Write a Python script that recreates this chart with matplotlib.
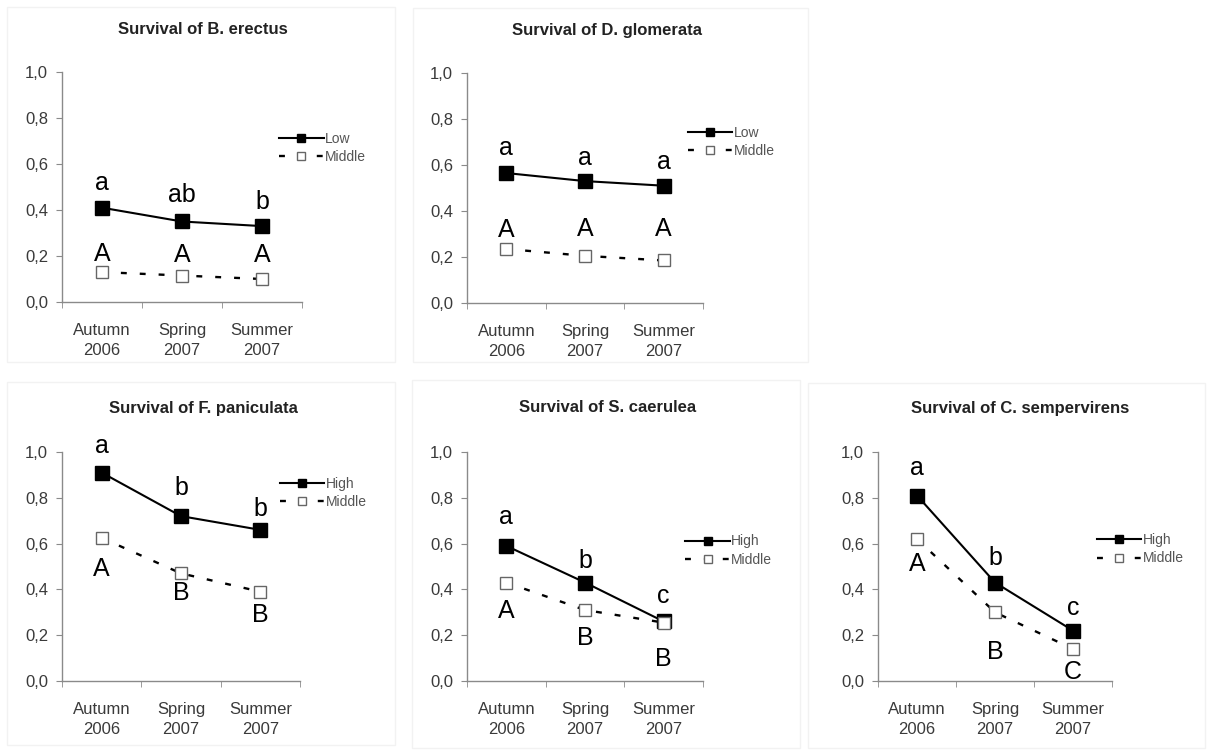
import numpy as np
import matplotlib
matplotlib.use("Agg")
import matplotlib.pyplot as plt
from matplotlib.patches import Rectangle

plt.rcParams["font.family"] = ["Liberation Sans", "DejaVu Sans"]

seasons = ["Autumn\n2006", "Spring\n2007", "Summer\n2007"]
yticks = [0.0, 0.2, 0.4, 0.6, 0.8, 1.0]

titles = [
    "Survival of B. erectus",
    "Survival of D. glomerata",
    "Survival of F. paniculata",
    "Survival of S. caerulea",
    "Survival of C. sempervirens",
]
upper_names = ["Low", "Low", "High", "High", "High"]

upper_vals = [
    [0.41, 0.35, 0.33],
    [0.565, 0.53, 0.51],
    [0.91, 0.72, 0.66],
    [0.59, 0.43, 0.26],
    [0.81, 0.43, 0.22],
]
middle_vals = [
    [0.13, 0.115, 0.10],
    [0.235, 0.205, 0.185],
    [0.625, 0.47, 0.39],
    [0.43, 0.31, 0.255],
    [0.62, 0.30, 0.14],
]

upper_letters = [["a", "ab", "b"], ["a", "a", "a"], ["a", "b", "b"], ["a", "b", "c"], ["a", "b", "c"]]
middle_letters = [["A", "A", "A"], ["A", "A", "A"], ["A", "B", "B"], ["A", "B", "B"], ["A", "B", "C"]]

# letter offsets from the marker, in pixels (negative = above)
upper_off = [[-25, -27, -24], [-25, -23, -24], [-27, -28, -21], [-29, -22, -25], [-28, -25, -23]]
middle_off = [[-18, -21, -24], [-19, -27, -31], [31, 20, 23], [28, 28, 36], [25, 40, 23]]

# layout in pixels: axes (left, top, right, bottom), frame box, title centre, legend anchor
W, H = 1212, 753
axes_px = [
    (62, 72, 302, 302),
    (467, 73, 703, 303),
    (62, 452, 300, 681),
    (467, 452, 703, 681),
    (878, 452, 1112, 681),
]
frames_px = [
    (7, 7, 395, 362),
    (413, 8, 808, 362),
    (7, 382, 395, 745),
    (412, 380, 800, 748),
    (808, 383, 1205, 748),
]
title_px = [(203, 30), (607, 30), (203, 408), (608, 408), (1020, 408)]
legend_anchor = [(0.905, 0.67), (0.935, 0.70), (0.915, 0.82), (0.925, 0.57), (0.935, 0.575)]

fig = plt.figure(figsize=(W / 100, H / 100), dpi=100)

axis_grey = "#8a8a8a"
text_grey = "#3a3a3a"

for i in range(5):
    fl, ft, fr, fb = frames_px[i]
    fig.patches.append(Rectangle((fl / W, 1 - fb / H), (fr - fl) / W, (fb - ft) / H,
                                 transform=fig.transFigure, fill=False,
                                 edgecolor="#f2f2f2", linewidth=1.0))

    l, t, r, b = axes_px[i]
    ax = fig.add_axes([l / W, 1 - b / H, (r - l) / W, (b - t) / H])
    x = np.arange(3)

    ax.plot(x, upper_vals[i], color="black", linewidth=1.5, marker="s",
            markersize=9.5, markerfacecolor="black", markeredgecolor="black",
            label=upper_names[i], zorder=3)
    ax.plot(x, middle_vals[i], color="black", linewidth=1.7, linestyle=(0, (2.5, 5.5)),
            marker="s", markersize=9, markerfacecolor="white",
            markeredgecolor="#666666", markeredgewidth=1.0, label="Middle", zorder=3)

    for j in range(3):
        ax.annotate(upper_letters[i][j], (x[j], upper_vals[i][j]),
                    xytext=(0, -upper_off[i][j] * 0.72), textcoords="offset points",
                    ha="center", va="center", fontsize=18, color="black")
        ax.annotate(middle_letters[i][j], (x[j], middle_vals[i][j]),
                    xytext=(0, -middle_off[i][j] * 0.72), textcoords="offset points",
                    ha="center", va="center", fontsize=18, color="black")

    ax.set_xlim(-0.5, 2.5)
    ax.set_ylim(0, 1.0)
    ax.set_yticks(yticks)
    ax.set_yticklabels([f"{v:.1f}".replace(".", ",") for v in yticks])
    ax.set_xticks(x)
    ax.set_xticklabels(seasons, linespacing=1.4)
    ax.set_xticks([-0.5, 0.5, 1.5, 2.5], minor=True)
    ax.tick_params(axis="x", which="major", length=0, pad=15, labelsize=12, labelcolor=text_grey)
    ax.tick_params(axis="x", which="minor", length=4, color=axis_grey, direction="out")
    ax.tick_params(axis="y", length=4, color=axis_grey, labelsize=12, labelcolor=text_grey, pad=6)
    for s in ["top", "right"]:
        ax.spines[s].set_visible(False)
    for s in ["left", "bottom"]:
        ax.spines[s].set_color(axis_grey)
        ax.spines[s].set_linewidth(1.0)

    leg = ax.legend(loc="center left", bbox_to_anchor=legend_anchor[i], frameon=False,
                    fontsize=10, handlelength=3.2, handletextpad=0.1, borderpad=0,
                    borderaxespad=0, labelspacing=0.3, markerscale=0.65)
    for txt in leg.get_texts():
        txt.set_color("#555555")

    tx, ty = title_px[i]
    fig.text(tx / W, 1 - ty / H, titles[i], ha="center", va="center",
             fontsize=12, fontweight="bold", color="#222222")

fig.savefig("out.png", dpi=100)
